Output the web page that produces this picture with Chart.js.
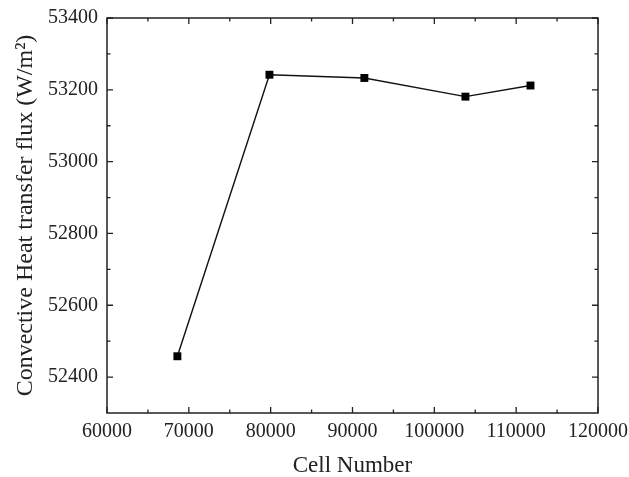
<!DOCTYPE html>
<html>
<head>
<meta charset="utf-8">
<script src="https://cdn.jsdelivr.net/npm/chart.js@4"></script>
<style>
  html, body { margin: 0; padding: 0; background: #fff; }
  #wrap { width: 629px; height: 477px; }
</style>
</head>
<body>
<div id="wrap"><canvas id="chart"></canvas></div>
<script>
// data
var cellNumbers = [68600, 79850, 91450, 103800, 111750];
var heatFlux = [52458, 53242, 53233, 53181, 53212];

// axis ticks
var xTickValues = [60000, 70000, 80000, 90000, 100000, 110000, 120000];
var yTickValues = [52400, 52600, 52800, 53000, 53200, 53400];
var xMin = 60000, xMax = 120000;
var yMin = 52300, yMax = 53400;

var ink = '#222';
var serif = 'Liberation Serif';

// halfway points between major ticks become minor ticks
function minorsOf(values) {
  var out = [];
  for (var i = 0; i < values.length - 1; i++) out.push((values[i] + values[i + 1]) / 2);
  return out;
}

// box frame with inward ticks on all four sides
var frame = {
  id: 'frame',
  afterDatasetsDraw: function (chart) {
    var ctx = chart.ctx, a = chart.chartArea;
    var xs = chart.scales.x, ys = chart.scales.y;
    ctx.save();
    ctx.strokeStyle = ink;
    ctx.lineWidth = 1.5;
    ctx.strokeRect(a.left, a.top, a.right - a.left, a.bottom - a.top);
    ctx.lineWidth = 1.3;
    function xt(v, len) {
      var p = xs.getPixelForValue(v);
      ctx.beginPath();
      ctx.moveTo(p, a.bottom); ctx.lineTo(p, a.bottom - len);
      ctx.moveTo(p, a.top); ctx.lineTo(p, a.top + len);
      ctx.stroke();
    }
    function yt(v, len) {
      var p = ys.getPixelForValue(v);
      ctx.beginPath();
      ctx.moveTo(a.left, p); ctx.lineTo(a.left + len, p);
      ctx.moveTo(a.right, p); ctx.lineTo(a.right - len, p);
      ctx.stroke();
    }
    xTickValues.forEach(function (v) { xt(v, 6); });
    minorsOf(xTickValues).forEach(function (v) { xt(v, 3.5); });
    yTickValues.forEach(function (v) { yt(v, 6); });
    minorsOf(yTickValues).forEach(function (v) { yt(v, 3.5); });
    ctx.restore();
  }
};

new Chart(document.getElementById('chart'), {
  type: 'line',
  data: {
    datasets: [{
      data: cellNumbers.map(function (c, i) { return { x: c, y: heatFlux[i] }; }),
      borderColor: '#111',
      borderWidth: 1.4,
      backgroundColor: '#000',
      pointStyle: 'rect',
      pointRadius: 5.6,
      pointBorderWidth: 0,
      tension: 0
    }]
  },
  options: {
    responsive: true,
    maintainAspectRatio: false,
    animation: false,
    events: [],
    layout: { padding: { top: 18, right: 31, left: 0, bottom: 0 } },
    plugins: { legend: { display: false }, tooltip: { enabled: false } },
    scales: {
      x: {
        type: 'linear',
        min: xMin,
        max: xMax,
        grid: { display: false, drawTicks: false },
        border: { display: false },
        afterBuildTicks: function (s) { s.ticks = xTickValues.map(function (v) { return { value: v }; }); },
        afterFit: function (s) { s.height = 64; s.paddingLeft = 0; s.paddingRight = 0; },
        ticks: {
          padding: 7,
          color: ink,
          maxRotation: 0,
          font: { family: serif, size: 20 },
          callback: function (v) { return String(v); }
        },
        title: {
          display: true,
          text: 'Cell Number',
          color: ink,
          padding: { top: 0, bottom: 0 },
          font: { family: serif, size: 23, lineHeight: 1 }
        }
      },
      y: {
        type: 'linear',
        min: yMin,
        max: yMax,
        grid: { display: false, drawTicks: false },
        border: { display: false },
        afterBuildTicks: function (s) { s.ticks = yTickValues.map(function (v) { return { value: v }; }); },
        afterFit: function (s) { s.width = 107; s.paddingTop = 0; s.paddingBottom = 0; },
        ticks: {
          padding: 9,
          color: ink,
          font: { family: serif, size: 20 },
          callback: function (v) { return String(v); }
        },
        title: {
          display: true,
          text: 'Convective Heat transfer flux (W/m\u00B2)',
          color: ink,
          padding: { top: 14, bottom: 0 },
          font: { family: serif, size: 24, lineHeight: 1 }
        }
      }
    }
  },
  plugins: [frame]
});
</script>
</body>
</html>
